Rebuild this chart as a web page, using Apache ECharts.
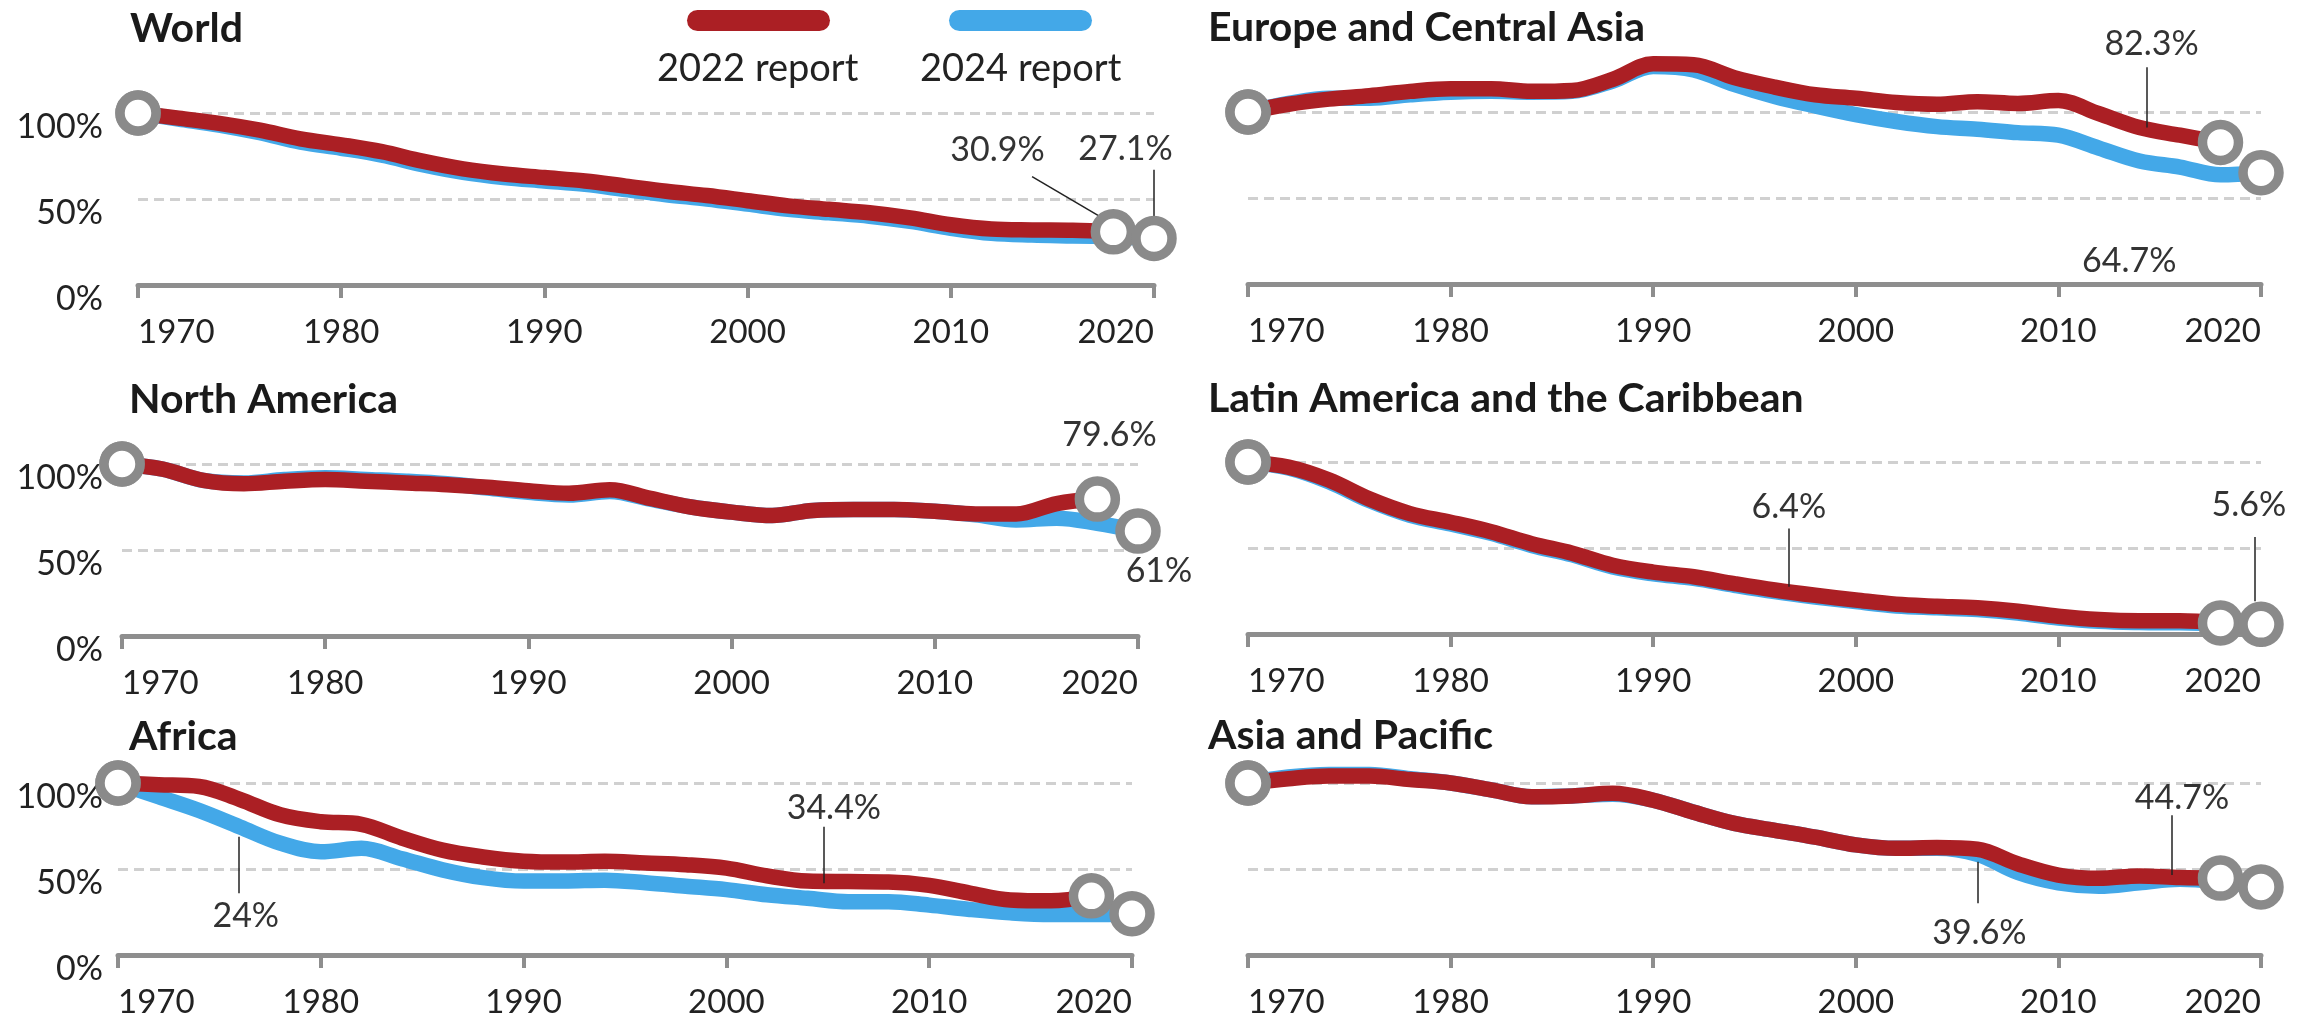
<!DOCTYPE html>
<html><head><meta charset="utf-8">
<script src="https://cdn.jsdelivr.net/npm/echarts@6/dist/echarts.min.js"></script>
<style>html,body{margin:0;padding:0;background:#fff}#c{width:2313px;height:1023px}</style>
</head><body><div id="c"></div>
<script>
// ---------- data ----------
const xTicks = [1970, 1980, 1990, 2000, 2010, 2020];
const yTicks = [0, 50, 100, 150];
const years2022 = [1970,1972,1974,1976,1978,1980,1982,1984,1986,1988,1990,1992,1994,1996,1998,2000,2002,2004,2006,2008,2010,2012,2014,2016,2018];
const years2024 = [1970,1972,1974,1976,1978,1980,1982,1984,1986,1988,1990,1992,1994,1996,1998,2000,2002,2004,2006,2008,2010,2012,2014,2016,2018,2020];

const world2022 = [100,97,94,90,85,81.5,77.5,72,67.5,64.5,62.5,60.5,57.5,54.5,52,49,46,44,42,39,35,32.5,32,31.8,30.9];
const world2024 = [100,96.5,93,88.5,83,79.5,75.5,70,65.5,62.5,60.5,58.5,55.5,52.5,50,47,44,42,40,37,33,30,29,28.5,28,27.1];

const europe2022 = [100,104.5,107.5,109.5,112,113.5,113.5,112,112.5,119,128,127.5,120,114.5,110,108,105.5,104.5,106,105,106.7,99,91,86.5,82.3];
const europe2024 = [100,105,108,108,110,111.5,112,111.5,112,118,126.5,124.5,116,109,103.5,98.5,94.5,91.5,90,88,86.5,79,71.5,68,63.5,64.7];

const northAmerica2022 = [100,97,90.5,88.5,90,91,90,89,88,86.5,84.5,83,85,80,75,72,70,73,73.5,73.5,72.5,71,71,77,79.6];
const northAmerica2024 = [100,97,90.5,89,91,92,91,90,88.5,86,83.5,82,84,79.5,75,72,70,73,73.5,73.5,72.5,70.5,67.5,68.5,65.5,61];

const latinAmerica2022 = [100,97,89.5,78.5,70,65,59.5,52.5,47,40,36,33.3,29.3,25.6,22.5,19.8,17.3,16.2,15.2,13.2,10.3,8.4,7.7,7.7,6.4];
const latinAmerica2024 = [100,96.5,88.5,77.5,69,64,58.5,51.5,46,39,35,32.3,28.3,24.6,21.5,18.8,16.3,15.2,14.2,12.2,9.3,7.4,6.7,6.5,6,5.6];

const africa2022 = [100,99,98,90.5,81.5,77.5,76,68,61,57,54.5,54,54.5,53.5,52.5,50.5,46,43,42.7,42.5,40.5,36,32,31.5,34.4];
const africa2024 = [100,92,84,74.5,65,60,62,56,49.5,45,43,43,43.5,42,40,38,35,33,31,31,29,26.5,24.5,23.5,23.5,24];

const asia2022 = [100,102.5,104,104,102,100,96,92,92.5,94,90,83,76.5,72.5,68.5,64,62,62.5,61.5,53,46.5,44.6,46,45,44.7];
const asia2024 = [100,103.5,105,105,102.5,100,96,92,92.5,93.5,90,83,76.5,72.5,68.5,64,62,62,58.5,48,42,40,42,44,42.5,39.6];

// ---------- layout / styling ----------
const C22 = '#ab1f24', C24 = '#43a8e8', AXIS = '#8e8e8e', RING = '#8a8a8a', TXT = '#222';
const FONT = 'Lato, "Noto Sans", sans-serif';
const PILL = 'path://M10.5,0H132.5A10.5,10.5,0,0,1,132.5,21H10.5A10.5,10.5,0,0,1,10.5,0Z';

const panels = [
  {title:'World', d22:world2022, d24:world2024, left:138, top:27, width:1016, tx:130, ty:8, yLabels:true, yMargin:35,
   notes:[{of:'22', at:[2012.3,78.5], leader:[[2014.0,63],[2017.6,38]]},
          {of:'24', at:[2018.6,79], leader:[[2020,67],[2020,27]]}]},
  {title:'Europe and Central Asia', d22:europe2022, d24:europe2024, left:1248, top:26, width:1013, tx:1208, ty:7, yLabels:false, yMargin:10,
   notes:[{of:'22', at:[2014.6,139.5], leader:[[2014.35,126],[2014.35,91]]},
          {of:'24', at:[2013.5,13.4]}]},
  {title:'North America', d22:northAmerica2022, d24:northAmerica2024, left:122, top:378, width:1016, tx:129, ty:379, yLabels:true, yMargin:19,
   notes:[{of:'22', at:[2018.6,117]},
          {of:'24', at:[2020,37.5], offset:[21,0]}]},
  {title:'Latin America and the Caribbean', d22:latinAmerica2022, d24:latinAmerica2024, left:1248, top:376, width:1013, tx:1208, ty:378, yLabels:false, yMargin:10,
   notes:[{of:'22', at:[1996.7,73.8], leader:[[1996.7,61.4],[1996.7,27.4]]},
          {of:'24', at:[2019.4,74.8], leader:[[2019.7,56.4],[2019.7,19]]}]},
  {title:'Africa', d22:africa2022, d24:africa2024, left:118, top:697, width:1014, tx:129, ty:716, yLabels:true, yMargin:15,
   notes:[{of:'22', at:[2005.3,85.2], leader:[[2004.8,74.5],[2004.8,41.7]]},
          {of:'24', at:[1976.3,22.4], leader:[[1975.95,68.7],[1975.95,35.9]]}]},
  {title:'Asia and Pacific', d22:asia2022, d24:asia2024, left:1248, top:697, width:1013, tx:1208, ty:715, yLabels:false, yMargin:10,
   notes:[{of:'22', at:[2016.1,91], leader:[[2015.6,81.3],[2015.6,46.5]]},
          {of:'24', at:[2006.1,12.7], leader:[[2006,54.2],[2006,30.1]]}]}
];

const last = a => a[a.length - 1];
const pct = v => v + '%';
const pairs = (xs, ys) => ys.map((y, i) => [xs[i], y]);

const option = {
  animation: false,
  backgroundColor: '#fff',
  textStyle: {fontFamily: FONT},
  title: [
    {text:'2022 report', left:657, top:50, padding:0, textStyle:{fontFamily:FONT, fontSize:38, fontWeight:'normal', color:TXT}},
    {text:'2024 report', left:920, top:50, padding:0, textStyle:{fontFamily:FONT, fontSize:38, fontWeight:'normal', color:TXT}}
  ],
  legend: [
    {data:['2022 report'], left:687, top:10, padding:0, itemWidth:143, itemHeight:21, icon:PILL, formatter:()=>'', selectedMode:false, itemStyle:{borderWidth:0}},
    {data:['2024 report'], left:949, top:10, padding:0, itemWidth:143, itemHeight:21, icon:PILL, formatter:()=>'', selectedMode:false, itemStyle:{borderWidth:0}}
  ],
  grid: [], xAxis: [], yAxis: [], series: []
};

panels.forEach((p, i) => {
  option.title.push({text:p.title, left:p.tx, top:p.ty, padding:0,
    textStyle:{fontFamily:FONT, fontSize:41, fontWeight:'bold', color:'#1a1a1a'}});
  option.grid.push({left:p.left, top:p.top, width:p.width, height:258});
  option.xAxis.push({
    type:'value', gridIndex:i, min:xTicks[0], max:last(xTicks), interval:xTicks[1]-xTicks[0],
    axisLine:{show:true, onZero:false, lineStyle:{color:AXIS, width:5}},
    axisTick:{show:true, length:13, lineStyle:{color:AXIS, width:4}},
    splitLine:{show:false},
    axisLabel:{fontFamily:FONT, fontSize:33, color:TXT, margin:31, alignMinLabel:'left', alignMaxLabel:'right', formatter:v=>String(v)}
  });
  option.yAxis.push({
    type:'value', gridIndex:i, min:yTicks[0], max:last(yTicks), interval:yTicks[1]-yTicks[0],
    axisLine:{show:false}, axisTick:{show:false},
    splitLine:{show:true, showMaxLine:false, lineStyle:{color:'#d0d0d0', width:3, type:[10,6]}},
    axisLabel:{show:p.yLabels, showMaxLabel:false, formatter:'{value}%', fontFamily:FONT, fontSize:34, color:TXT,
               margin:p.yMargin, verticalAlign:'top', lineHeight:28}
  });
  const line = (name, color, data) => ({
    type:'line', name, xAxisIndex:i, yAxisIndex:i, data, smooth:0.35, symbol:'none', showSymbol:false,
    color, itemStyle:{color}, lineStyle:{color, width:15.5, cap:'round', join:'round'},
    emphasis:{disabled:true}, silent:true, z:2
  });
  option.series.push(line('2024 report', C24, pairs(years2024, p.d24)));
  option.series.push(line('2022 report', C22, pairs(years2022, p.d22)));
  const ends = [
    [years2024[0], p.d24[0]], [years2022[0], p.d22[0]],
    [last(years2022), last(p.d22)], [last(years2024), last(p.d24)]
  ];
  option.series.push({
    type:'scatter', xAxisIndex:i, yAxisIndex:i, data:ends, symbol:'circle', symbolSize:36, clip:false,
    itemStyle:{color:'#fff', borderColor:RING, borderWidth:9.5, opacity:1}, silent:true, z:5,
    emphasis:{disabled:true},
    markPoint:{
      symbol:'circle', symbolSize:1, silent:true, animation:false,
      itemStyle:{color:'rgba(0,0,0,0)'},
      label:{show:true, position:'inside', fontFamily:FONT, fontSize:34, color:'#333'},
      data:p.notes.map(n => ({coord:n.at, label:{formatter:pct(n.of === '22' ? last(p.d22) : last(p.d24)), offset:n.offset || [0,0]}}))
    },
    markLine:{
      symbol:['none','none'], silent:true, animation:false, label:{show:false},
      lineStyle:{color:'#222', width:1.5, type:'solid'},
      data:p.notes.filter(n => n.leader).map(n => [{coord:n.leader[0]}, {coord:n.leader[1]}])
    }
  });
});

const chart = echarts.init(document.getElementById('c'), null, {renderer:'canvas'});
chart.setOption(option);
</script>
</body></html>
